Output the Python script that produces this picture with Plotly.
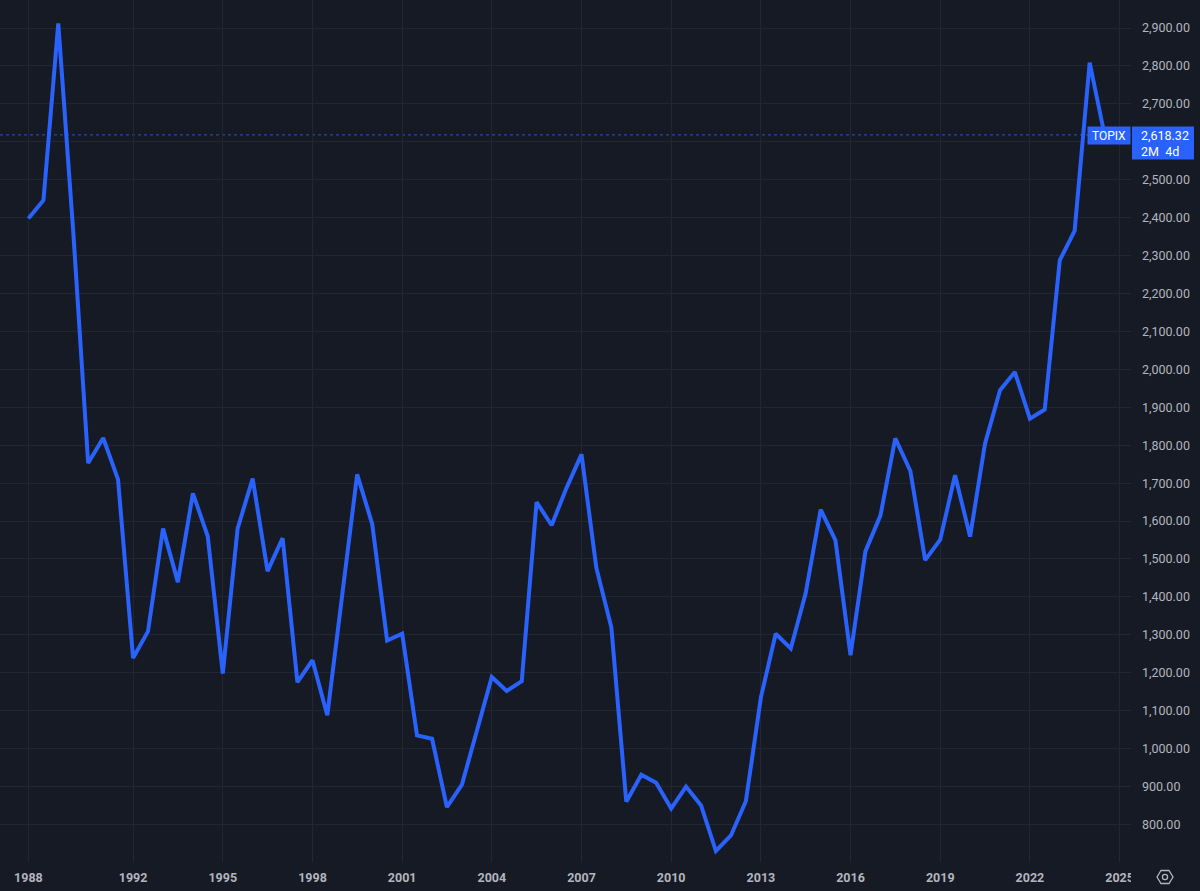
import plotly.graph_objects as go
import pandas as pd

# TOPIX, semi-annual closes (first bar = 1988 H2)
topix_close = [
    2398, 2446, 2912, 2360, 1753, 1819, 1710, 1239, 1309, 1580,
    1439, 1673, 1560, 1198, 1580, 1712, 1468, 1555, 1175, 1233,
    1088, 1405, 1723, 1592, 1285, 1303, 1035, 1026, 846, 905,
    1047, 1189, 1152, 1178, 1650, 1589, 1687, 1776, 1477, 1319,
    860, 931, 910, 842, 900, 850, 730, 771, 861, 1135,
    1303, 1264, 1409, 1630, 1549, 1246, 1520, 1615, 1818, 1732,
    1497, 1551, 1721, 1559, 1804, 1945, 1993, 1870, 1894, 2288,
    2365, 2809, 2618.32,
]
bar_dates = pd.date_range("1988-07-01", periods=len(topix_close), freq="6MS")

tick_dates = ["1988-07-01", "1992-01-01", "1995-01-01", "1998-01-01", "2001-01-01",
              "2004-01-01", "2007-01-01", "2010-01-01", "2013-01-01", "2016-01-01",
              "2019-01-01", "2022-01-01", "2025-01-01"]
tick_labels = ["1988", "1992", "1995", "1998", "2001", "2004", "2007",
               "2010", "2013", "2016", "2019", "2022", "2025"]

# price scale labels (2,600 sits under the price tag, so it is not shown)
price_ticks = [800, 900, 1000, 1100, 1200, 1300, 1400, 1500, 1600, 1700, 1800,
               1900, 2000, 2100, 2200, 2300, 2400, 2500, 2700, 2800, 2900]

symbol = "TOPIX"
countdown = "2M  4d"
last_price = topix_close[-1]

BG = "#161A25"
GRID = "#222632"
BLUE = "#2962FF"
TXT = "#B2B5BE"

W, H = 1200, 891
ML, MR, MT, MB = 0, 69, 0, 29
PW, PH = W - ML - MR, H - MT - MB
Y_RANGE = [701, 2974]
UNITS_PER_PX = (Y_RANGE[1] - Y_RANGE[0]) / PH


def px(x, y):
    # pixel -> paper coords (for the UI decorations only)
    return (x - ML) / PW, (H - MB - y) / PH


fig = go.Figure()

fig.add_trace(go.Scatter(
    x=bar_dates, y=topix_close, mode="lines",
    line=dict(color=BLUE, width=4), hoverinfo="skip", showlegend=False,
))

# dotted last-price line
fig.add_shape(type="line", xref="paper", yref="y", x0=0, x1=1,
              y0=last_price, y1=last_price, opacity=0.8,
              line=dict(color=BLUE, width=1, dash="dot"), layer="below")

# hide the part of the last x label that runs under the price scale
x0, y0 = px(PW, H - MB)
x1, y1 = px(W, H)
fig.add_shape(type="rect", xref="paper", yref="paper", x0=x0, x1=x1, y0=y1, y1=y0,
              fillcolor=BG, line=dict(width=0), layer="above")

# price tag background on the price scale
tag_top = last_price + 8.5 * UNITS_PER_PX
tag_bot = tag_top - 33 * UNITS_PER_PX
fig.add_shape(type="rect", xref="paper", yref="y",
              x0=px(1132, 0)[0], x1=px(1194, 0)[0], y0=tag_bot, y1=tag_top,
              fillcolor=BLUE, line=dict(width=0), layer="above")

# settings icon bottom right
cx, cy = 1165, 877
hex_pts = [(cx - 8, cy), (cx - 4, cy - 6.5), (cx + 4, cy - 6.5),
           (cx + 8, cy), (cx + 4, cy + 6.5), (cx - 4, cy + 6.5)]
path = "M " + " L ".join(f"{px(a, b)[0]:.5f},{px(a, b)[1]:.5f}" for a, b in hex_pts) + " Z"
fig.add_shape(type="path", xref="paper", yref="paper", path=path,
              line=dict(color=TXT, width=1.3), layer="above")
c0 = px(cx - 2.6, cy - 2.6)
c1 = px(cx + 2.6, cy + 2.6)
fig.add_shape(type="circle", xref="paper", yref="paper", x0=c0[0], y0=c1[1], x1=c1[0], y1=c0[1],
              line=dict(color=TXT, width=1.3), layer="above")

# symbol tag and price text
fig.add_annotation(x=1, xref="paper", y=last_price, yref="y", xanchor="right", yanchor="top",
                   yshift=8.5, text=symbol, showarrow=False, bgcolor=BLUE,
                   font=dict(family="Roboto", size=12, color="white"),
                   width=39, height=14, borderpad=1.5)
fig.add_annotation(x=px(1140, 0)[0], xref="paper", y=tag_top, yref="y",
                   xanchor="left", yanchor="top", yshift=-0.5,
                   text=f"{last_price:,.2f}<br>{countdown}", showarrow=False, align="left",
                   font=dict(family="Roboto", size=12.5, color="white"),
                   borderpad=0)

fig.update_layout(
    width=W, height=H,
    margin=dict(l=ML, r=MR, t=MT, b=MB),
    paper_bgcolor=BG, plot_bgcolor=BG,
    showlegend=False,
    xaxis=dict(
        type="date", range=["1987-07-20", "2025-05-20"],
        tickvals=tick_dates, ticktext=tick_labels,
        showgrid=True, gridcolor=GRID, gridwidth=1,
        zeroline=False, showline=False, ticks="",
        ticklabelstandoff=6,
        tickfont=dict(family="Roboto", size=12.5, color=TXT, weight="bold"),
    ),
    yaxis=dict(
        side="right", range=Y_RANGE,
        tickvals=price_ticks, tickformat=",.2f",
        showgrid=False,
        minor=dict(tick0=800, dtick=100, showgrid=True, gridcolor=GRID, gridwidth=1, ticks=""),
        zeroline=False, showline=False, ticks="",
        ticklabelstandoff=10,
        tickfont=dict(family="Roboto", size=12.5, color=TXT),
    ),
)

fig.write_html("out.html", post_script="document.body.style.margin='0';",
               config={"displayModeBar": False})
